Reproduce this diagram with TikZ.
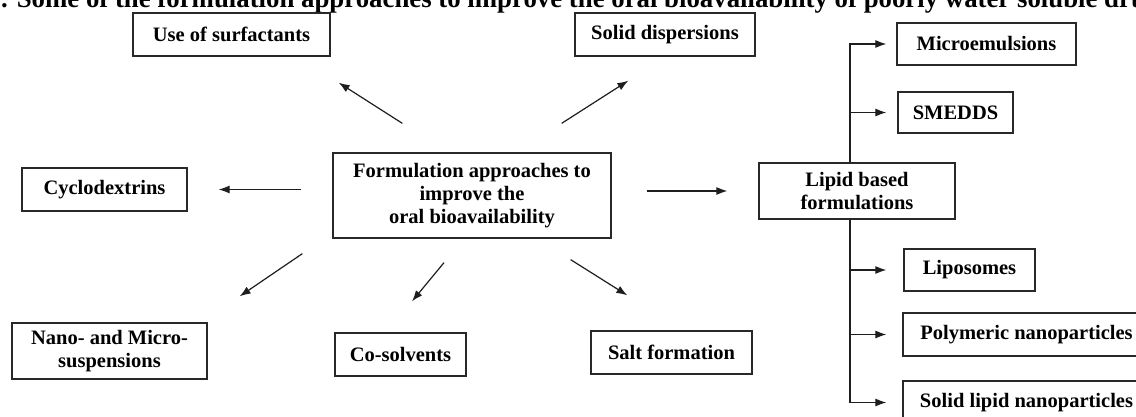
\documentclass[tikz,border=0pt]{standalone}
\usepackage{fontspec}
\setmainfont{Liberation Serif}
\usetikzlibrary{arrows.meta}

\newcommand{\boxfont}{\fontsize{20.5}{23}\selectfont\bfseries}
\tikzset{
  stagebox/.style={draw={rgb,255:red,40;green,40;blue,40}, line width=1.3pt, fill=white,
    font=\boxfont, align=center, inner sep=0pt},
  arr/.style={draw={rgb,255:red,30;green,30;blue,30}, line width=1.2pt, -{Latex[length=11pt,width=8pt]}},
  branch/.style={arr, rounded corners=0pt}
}

\begin{document}
\begin{tikzpicture}[x=1pt,y=-1pt]
\useasboundingbox (0,0) rectangle (1136,417);
\clip (0,0) rectangle (1136,417);
\fill[white] (0,0) rectangle (1136,417);

% Title (cut at the top and right)
\node (title) [anchor=base west, inner sep=0pt, font=\fontsize{26.8}{30}\selectfont\bfseries] at (1,7.5)
  {. Some of the formulation approaches to improve the oral bioavailability of poorly water soluble drugs};

% Text Node
\node (center) [stagebox, minimum width=278pt, minimum height=85pt] at (472,195.5)
  {Formulation approaches to\\ improve the\\ oral bioavailability};
% Text Node
\node (surf) [stagebox, minimum width=197pt, minimum height=43pt] at (231.5,34.5) {Use of surfactants};
% Text Node
\node (soldisp) [stagebox, minimum width=180pt, minimum height=43pt] at (665,34.5) {Solid dispersions};
% Text Node
\node (cyclo) [stagebox, minimum width=165pt, minimum height=43pt] at (104.5,189.5) {Cyclodextrins};
% Text Node
\node (nano) [stagebox, minimum width=195pt, minimum height=56pt] at (109.5,351) {Nano- and Micro-\\ suspensions};
% Text Node
\node (cosolv) [stagebox, minimum width=131pt, minimum height=43pt] at (400.5,354.5) {Co-solvents};
% Text Node
\node (salt) [stagebox, minimum width=161pt, minimum height=43pt] at (671.5,352.5) {Salt formation};
% Text Node
\node (lipid) [stagebox, minimum width=196pt, minimum height=56pt] at (857,191) {Lipid based\\ formulations};
% Text Node
\node (micro) [stagebox, minimum width=179pt, minimum height=42pt] at (986.5,44) {Microemulsions};
% Text Node
\node (smedds) [stagebox, minimum width=115pt, minimum height=41pt] at (955.5,112.5) {SMEDDS};
% Text Node
\node (lipo) [stagebox, minimum width=131pt, minimum height=42pt] at (969.5,270) {Liposomes};
% Text Node
\node (poly) [stagebox, minimum width=247pt, minimum height=43pt] at (1026.5,334.5) {Polymeric nanoparticles};
% Text Node
\node (sln) [stagebox, minimum width=247pt, minimum height=43pt] at (1026.5,402.5) {Solid lipid nanoparticles};

%Straight Lines
\draw [arr] ([shift={(70,-29)}]center.north west) -- ([shift={(8,26)}]surf.south east);
\draw [arr] ([shift={(-50,-29)}]center.north east) -- ([shift={(54,24)}]soldisp.south west);
\draw [arr, shorten <=31pt, shorten >=31pt] (center.west |- cyclo.east) -- (cyclo.east);
\draw [arr, shorten <=35pt, shorten >=31pt] (center.east |- lipid.west) -- (lipid.west);
\draw [arr] ([shift={(-30,15)}]center.south west) -- ([shift={(32,-26)}]nano.north east);
\draw [arr] ([shift={(-28,24)}]center.south) -- ([shift={(11.5,-31)}]cosolv.north);
\draw [arr] ([shift={(-41,21)}]center.south east) -- ([shift={(37,-35)}]salt.north west);

%Straight Lines
\draw [branch, shorten >=10pt] ([xshift=-7pt]lipid.north) |- (micro.west);
\draw [branch, shorten >=11pt] ([xshift=-7pt]lipid.north) |- (smedds.west);
\draw [branch, shorten >=17pt] ([xshift=-7pt]lipid.south) |- (lipo.west);
\draw [branch, shorten >=16pt] ([xshift=-7pt]lipid.south) |- (poly.west);
\draw [branch, shorten >=16pt] ([xshift=-7pt]lipid.south) |- (sln.west);

\end{tikzpicture}
\end{document}
